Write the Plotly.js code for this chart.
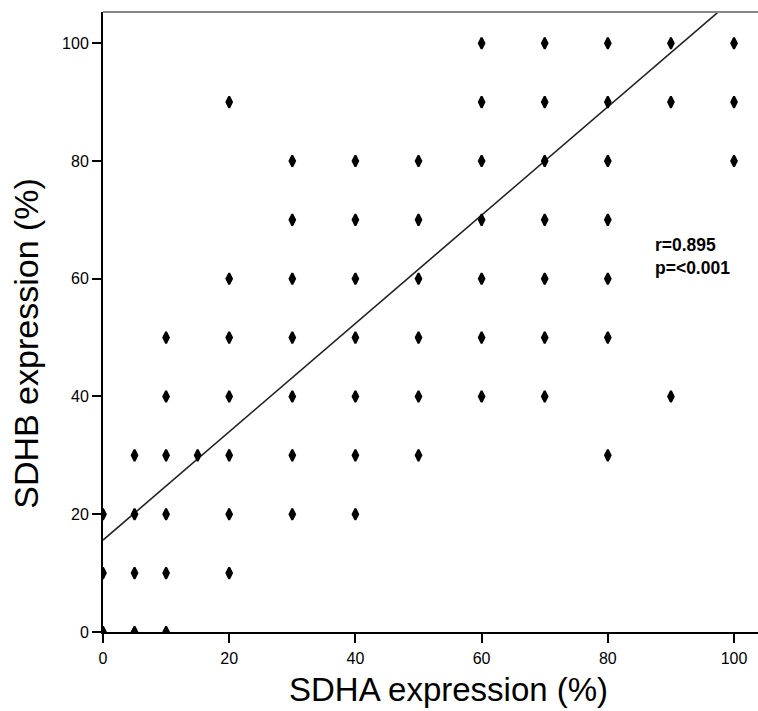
<!DOCTYPE html>
<html><head><meta charset="utf-8">
<script src="https://cdn.plot.ly/plotly-3.0.1.min.js"></script>
<style>html,body{margin:0;padding:0;background:#fff}#c{width:758px;height:711px}</style>
</head><body><div id="c"></div>
<script>
const sdha = [0,0,0, 5,5,5,5, 10,10,10,10,10,10, 15, 20,20,20,20,20,20,20,
  30,30,30,30,30,30,30, 40,40,40,40,40,40,40, 50,50,50,50,50,50,
  60,60,60,60,60,60,60, 70,70,70,70,70,70,70, 80,80,80,80,80,80,80,
  90,90,90, 100,100,100];
const sdhb = [0,10,20, 0,10,20,30, 0,10,20,30,40,50, 30, 10,20,30,40,50,60,90,
  20,30,40,50,60,70,80, 20,30,40,50,60,70,80, 30,40,50,60,70,80,
  40,50,60,70,80,90,100, 40,50,60,70,80,90,100, 30,50,60,70,80,90,100,
  40,90,100, 80,90,100];
const fitX = [0, 110];
const fitIntercept = 15.6, fitSlope = 0.92;
const fitY = fitX.map(x => fitIntercept + fitSlope * x);
const ticks = [0, 20, 40, 60, 80, 100];

const traces = [
  {x: fitX, y: fitY, mode: 'lines', line: {color: '#222', width: 1.6}, hoverinfo: 'skip'},
  {x: sdha, y: sdhb, mode: 'markers', marker: {symbol: 'diamond-tall', size: 8, color: '#000', line: {color: '#000', width: 2}}}
];
const axisCommon = {ticks: 'outside', ticklen: 9, tickwidth: 2, tickcolor: '#000',
  showline: true, linecolor: '#000', linewidth: 2, showgrid: false, zeroline: false,
  tickfont: {size: 16, family: 'Liberation Sans, Arial, sans-serif'}, tickvals: ticks};
const layout = {
  width: 758, height: 711, showlegend: false,
  margin: {l: 103, r: 0, t: 12, b: 79},
  paper_bgcolor: '#fff', plot_bgcolor: '#fff',
  font: {family: 'Liberation Sans, Arial, sans-serif', color: '#000'},
  xaxis: Object.assign({range: [0, 103.8], ticklabelstandoff: 2}, axisCommon),
  yaxis: Object.assign({range: [0, 105.3]}, axisCommon),
  shapes: [{type: 'line', xref: 'paper', yref: 'paper', x0: 0, x1: 1, y0: 1, y1: 1, line: {color: '#888', width: 2}}],
  annotations: [
    {xref: 'paper', yref: 'paper', x: 0.84, y: 0.606, xanchor: 'left', yanchor: 'middle', align: 'left',
      showarrow: false, text: '<b>r=0.895<br>p=<0.001</b>', font: {size: 17.5}},
    {xref: 'paper', yref: 'paper', x: 0.528, y: -0.093, xanchor: 'center', yanchor: 'middle',
      showarrow: false, text: 'SDHA expression (%)', font: {size: 33}},
    {xref: 'paper', yref: 'paper', x: -0.118, y: 0.466, xanchor: 'center', yanchor: 'middle', textangle: -90,
      showarrow: false, text: 'SDHB expression (%)', font: {size: 34}}
  ]
};
Plotly.newPlot('c', traces, layout, {displayModeBar: false, staticPlot: true});
</script></body></html>
